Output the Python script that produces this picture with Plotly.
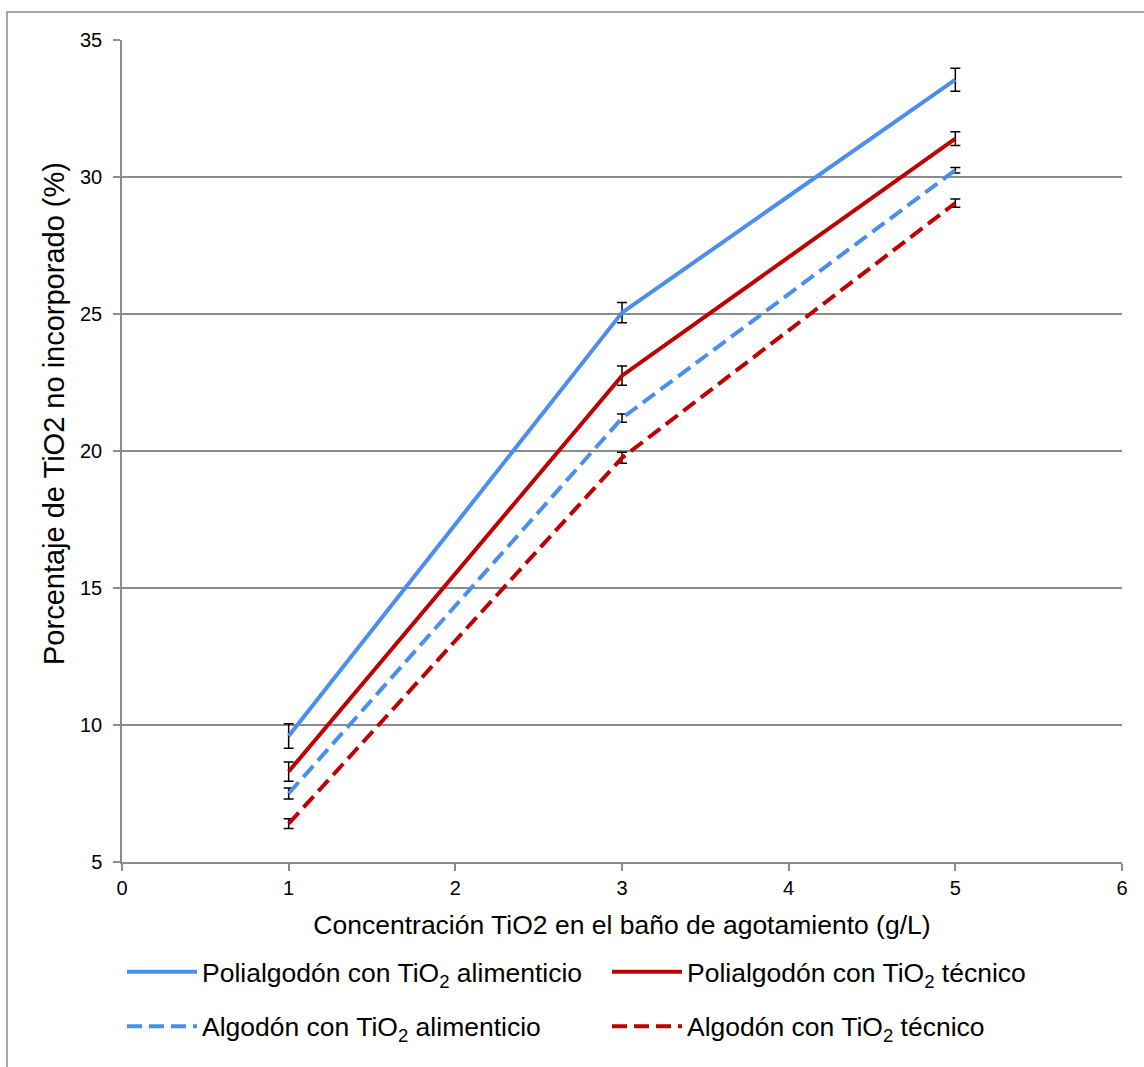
import plotly.graph_objects as go

# ---- data ----
conc = [1, 3, 5]

poli_alim = [9.6, 25.05, 33.55]
poli_alim_err = [0.45, 0.37, 0.42]

poli_tec = [8.3, 22.75, 31.4]
poli_tec_err = [0.35, 0.35, 0.25]

algo_alim = [7.5, 21.2, 30.25]
algo_alim_err = [0.2, 0.15, 0.1]

algo_tec = [6.4, 19.75, 29.05]
algo_tec_err = [0.18, 0.2, 0.15]

names = [
    "Polialgodón con TiO<sub>2</sub> alimenticio",
    "Polialgodón con TiO<sub>2</sub> técnico",
    "Algodón con TiO<sub>2</sub> alimenticio",
    "Algodón con TiO<sub>2</sub> técnico",
]

x_title = "Concentración TiO2 en el baño de agotamiento (g/L)"
y_title = "Porcentaje de TiO2 no incorporado (%)"

BLUE = "#4A8EF0"
RED = "#C00000"
FONT = "Liberation Sans, Arial, sans-serif"

series = [
    (poli_alim, poli_alim_err, BLUE, "solid", "legend"),
    (poli_tec, poli_tec_err, RED, "solid", "legend"),
    (algo_alim, algo_alim_err, BLUE, "15px,7px", "legend2"),
    (algo_tec, algo_tec_err, RED, "15px,7px", "legend2"),
]

fig = go.Figure()
for (vals, err, col, dash, leg), name in zip(series, names):
    fig.add_trace(go.Scatter(
        x=conc, y=vals, name=name, mode="lines",
        line=dict(color=col, width=4, dash=dash),
        error_y=dict(type="data", array=err, visible=True,
                     color="black", thickness=1.5, width=5),
        legend=leg,
    ))

axis_common = dict(
    showline=True, linecolor="#8c8c8c", linewidth=1.5,
    ticks="outside", tickcolor="#8c8c8c", ticklen=7, tickwidth=1.5,
    tickfont=dict(family=FONT, size=20, color="black"),
    zeroline=False,
)

fig.update_layout(
    width=1144, height=1067,
    margin=dict(l=122, r=22, t=40, b=205),
    paper_bgcolor="white", plot_bgcolor="white",
    font=dict(family=FONT, color="black"),
    xaxis=dict(range=[0, 6], dtick=1, tick0=0, showgrid=False,
               title=dict(text=x_title, font=dict(family=FONT, size=26.5, color="black"),
                          standoff=18),
               **axis_common),
    yaxis=dict(range=[5, 35], dtick=5, tick0=5, showgrid=True,
               gridcolor="#8c8c8c", gridwidth=1.5, ticklabelstandoff=7,
               **axis_common),
    legend=dict(orientation="h", x=0.0, y=-0.134, xanchor="left", yanchor="middle",
                font=dict(family=FONT, size=26.5, color="black"),
                entrywidth=400, entrywidthmode="pixels", itemwidth=70,
                bgcolor="rgba(0,0,0,0)"),
    legend2=dict(orientation="h", x=0.0, y=-0.2, xanchor="left", yanchor="middle",
                 font=dict(family=FONT, size=26.5, color="black"),
                 entrywidth=400, entrywidthmode="pixels", itemwidth=70,
                 bgcolor="rgba(0,0,0,0)"),
    showlegend=True,
)

# y axis title placed like the reference (rotated)
fig.add_annotation(
    text=y_title, textangle=-90, xref="paper", yref="paper",
    x=(54 - 122) / 1000, y=(862 - 414) / 822, xanchor="center", yanchor="middle",
    showarrow=False, font=dict(family=FONT, size=29, color="black"),
)

# outer chart border
fig.add_shape(type="rect", xref="paper", yref="paper",
              x0=(7 - 122) / 1000, x1=1.2, y0=(862 - 1100) / 822, y1=(862 - 12) / 822,
              line=dict(color="#8c8c8c", width=1.5), fillcolor="rgba(0,0,0,0)", layer="below")

fig.write_html("out.html")
